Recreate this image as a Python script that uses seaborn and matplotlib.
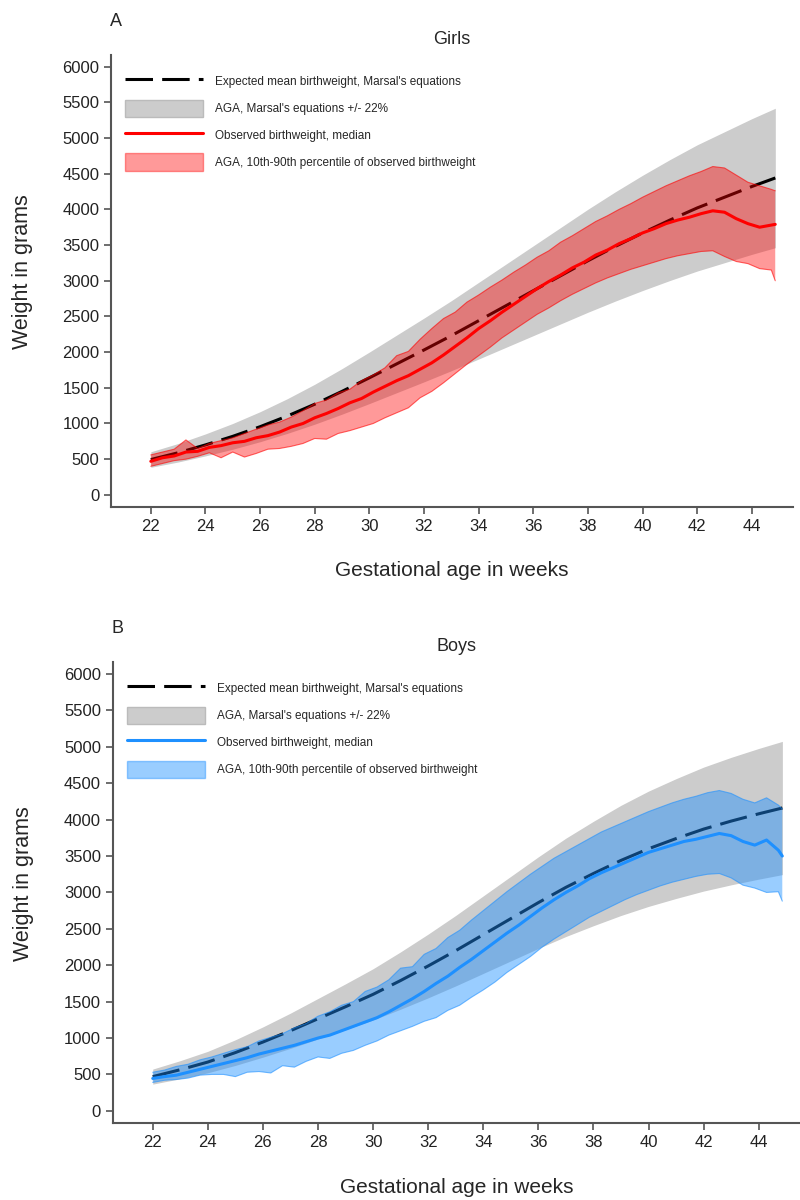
import numpy as np
import matplotlib
matplotlib.use("Agg")
import matplotlib.pyplot as plt
import seaborn as sns
from matplotlib.lines import Line2D
from matplotlib.patches import Patch

# -------------------------------------------------
# Data
# -------------------------------------------------

# Marsal's expected mean birthweight (weekly grid)
mean_weeks = [22, 23, 24, 25, 26, 27, 28, 29, 30, 31, 32, 33, 34, 35, 36, 37, 38, 39,
              40, 41, 42, 43, 44, 44.86]
girls_mean = [495, 590, 700, 820, 955, 1105, 1270, 1450, 1640, 1835, 2030, 2230, 2440,
              2650, 2860, 3070, 3280, 3480, 3670, 3850, 4020, 4170, 4320, 4440]
boys_mean = [470, 565, 670, 800, 945, 1100, 1265, 1430, 1600, 1790, 1990, 2200, 2420,
             2640, 2860, 3070, 3260, 3440, 3600, 3740, 3870, 3980, 4080, 4160]

# Observed birthweight, every third gestational day (154..313) plus the last day (314)
obs_days = list(range(154, 314, 3)) + [314]

girls_median = [470, 520, 545, 600, 610, 665, 690, 730, 750, 800, 830, 880, 950, 1000,
                1080, 1140, 1210, 1290, 1350, 1440, 1520, 1600, 1670, 1760, 1850, 1960,
                2080, 2200, 2330, 2440, 2560, 2670, 2780, 2890, 2990, 3080, 3180, 3260,
                3360, 3430, 3520, 3590, 3670, 3730, 3800, 3850, 3890, 3940, 3980, 3960,
                3870, 3800, 3750, 3780, 3790]
girls_p90 = [560, 600, 640, 770, 650, 720, 760, 800, 860, 920, 980, 1020, 1090, 1180,
             1280, 1330, 1430, 1480, 1600, 1680, 1780, 1950, 2010, 2180, 2330, 2470,
             2560, 2700, 2800, 2910, 3010, 3120, 3220, 3330, 3420, 3540, 3630, 3730,
             3830, 3910, 4000, 4080, 4170, 4250, 4330, 4400, 4470, 4530, 4600, 4580,
             4480, 4380, 4330, 4280, 4260]
girls_p10 = [400, 440, 480, 500, 540, 590, 520, 600, 530, 580, 640, 650, 680, 720,
             790, 780, 860, 900, 950, 1000, 1080, 1150, 1220, 1360, 1450, 1570, 1700,
             1830, 1950, 2070, 2200, 2310, 2420, 2530, 2620, 2720, 2810, 2890, 2970,
             3040, 3100, 3160, 3210, 3260, 3310, 3350, 3380, 3410, 3420, 3340, 3270,
             3240, 3170, 3150, 3000]

boys_median = [445, 470, 490, 530, 570, 610, 650, 690, 730, 780, 820, 860, 900, 950,
               1000, 1040, 1100, 1160, 1220, 1280, 1360, 1450, 1540, 1640, 1750, 1850,
               1970, 2080, 2200, 2320, 2440, 2550, 2670, 2790, 2900, 3000, 3090, 3190,
               3270, 3340, 3410, 3480, 3550, 3600, 3650, 3700, 3730, 3770, 3810, 3780,
               3700, 3650, 3720, 3580, 3500]
boys_p90 = [530, 560, 610, 640, 700, 740, 790, 840, 880, 960, 1010, 1060, 1140, 1200,
            1300, 1360, 1450, 1500, 1640, 1700, 1800, 1960, 1980, 2150, 2230, 2380,
            2480, 2620, 2750, 2880, 3010, 3130, 3250, 3360, 3470, 3560, 3650, 3740,
            3830, 3900, 3970, 4040, 4110, 4170, 4230, 4280, 4320, 4370, 4400, 4360,
            4280, 4230, 4300, 4200, 4150]
boys_p10 = [390, 420, 430, 450, 490, 500, 500, 470, 530, 540, 520, 620, 600, 680,
            740, 720, 790, 830, 900, 960, 1040, 1100, 1160, 1230, 1280, 1380, 1450,
            1560, 1660, 1770, 1900, 2010, 2120, 2250, 2360, 2460, 2560, 2660, 2740,
            2820, 2900, 2970, 3030, 3090, 3140, 3180, 3220, 3250, 3260, 3200, 3100,
            3060, 3000, 3010, 2880]

aga_margin = 0.22  # Marsal's equations +/- 22%

x_ticks = list(range(22, 46, 2))
y_ticks = list(range(0, 6500, 500))

# -------------------------------------------------
# Style
# -------------------------------------------------
sns.set_style("ticks")
plt.rcParams["font.family"] = ["Liberation Sans", "DejaVu Sans"]
plt.rcParams["axes.edgecolor"] = "#555555"
plt.rcParams["xtick.color"] = "#555555"
plt.rcParams["ytick.color"] = "#555555"
plt.rcParams["xtick.labelcolor"] = "#222222"
plt.rcParams["ytick.labelcolor"] = "#222222"

obs_weeks = np.array(obs_days) / 7.0

fig = plt.figure(figsize=(8, 12), dpi=100)
ax_a = fig.add_axes([0.139, 0.5775, 0.852, 0.3765])
ax_b = fig.add_axes([0.141, 0.064, 0.859, 0.384])

panels = [
    (ax_a, "A", "Girls", girls_mean, girls_median, girls_p10, girls_p90, "#ff0000", 0.40),
    (ax_b, "B", "Boys", boys_mean, boys_median, boys_p10, boys_p90, "#1e90ff", 0.45),
]

for ax, letter, title, mean, median, p10, p90, col, alpha in panels:
    mean = np.array(mean)

    # Marsal band +/- 22%
    ax.fill_between(mean_weeks, mean * (1 - aga_margin), mean * (1 + aga_margin),
                    color="#cccccc", linewidth=0, zorder=1)

    # Expected mean (dashed)
    sns.lineplot(x=mean_weeks, y=mean, ax=ax, color="black", linewidth=2.2,
                 linestyle=(0, (9, 3)), zorder=2)

    # Observed 10th-90th percentile band
    ax.fill_between(obs_weeks, p10, p90, facecolor=col, alpha=alpha,
                    edgecolor="none", zorder=3)
    ax.plot(obs_weeks, p10, color=col, linewidth=0.8, alpha=0.6, zorder=3)
    ax.plot(obs_weeks, p90, color=col, linewidth=0.8, alpha=0.6, zorder=3)

    # Observed median
    sns.lineplot(x=obs_weeks, y=median, ax=ax, color=col, linewidth=2.2, zorder=4)

    ax.set_xlim(20.55, 45.5)
    ax.set_ylim(-170, 6160)
    ax.set_xticks(x_ticks)
    ax.set_yticks(y_ticks)
    ax.tick_params(axis="both", labelsize=12, length=5, width=1.2)
    sns.despine(ax=ax)
    for side in ["left", "bottom"]:
        ax.spines[side].set_linewidth(1.5)

    ax.set_title(title, fontsize=13, pad=8)
    ax.set_xlabel("Gestational age in weeks", fontsize=15)
    ax.set_ylabel("Weight in grams", fontsize=15.5)
    ax.xaxis.set_label_coords(0.5, -0.12)
    ax.yaxis.set_label_coords(-0.115, 0.52)

    handles = [
        Line2D([], [], color="black", linewidth=2.2, linestyle=(0, (9, 3))),
        Patch(facecolor="#cccccc", edgecolor="#bbbbbb"),
        Line2D([], [], color=col, linewidth=2.2),
        Patch(facecolor=col, alpha=alpha, edgecolor=col),
    ]
    labels = [
        "Expected mean birthweight, Marsal's equations",
        "AGA, Marsal's equations +/- 22%",
        "Observed birthweight, median",
        "AGA, 10th-90th percentile of observed birthweight",
    ]
    ax.legend(handles, labels, loc="upper left", bbox_to_anchor=(0.005, 0.985),
              frameon=False, fontsize=8.5, handlelength=6.6, handleheight=1.9,
              labelspacing=0.8, handletextpad=1.0)

    pos = ax.get_position()
    fig.text(pos.x0 - 0.002, pos.y1 + 0.021, letter, fontsize=13, ha="left", va="bottom")

plt.savefig("out.png", dpi=100)
